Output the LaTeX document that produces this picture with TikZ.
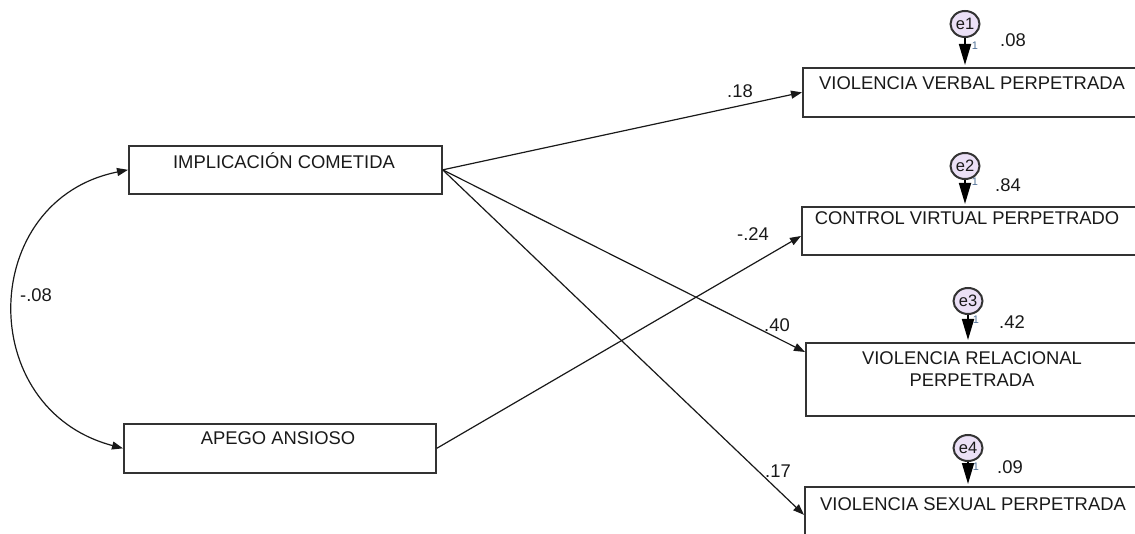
\documentclass[tikz,border=0pt]{standalone}
\usepackage{fontspec}
\setmainfont{Liberation Sans}
\usetikzlibrary{arrows.meta,shapes.geometric,calc}
\definecolor{boxline}{HTML}{333333}
\definecolor{errfill}{HTML}{EBE0F6}
\definecolor{onecol}{HTML}{4F6F95}
\begin{document}
\begin{tikzpicture}[x=1pt,y=-1pt,
  box/.style={draw=boxline, line width=1.7pt, rectangle, inner sep=0pt, anchor=north west},
  lbl/.style={font=\fontsize{18.4}{22}\selectfont, inner sep=0pt, text=black!90, anchor=base},
  err/.style={ellipse, draw=boxline, line width=2pt, fill=errfill, minimum width=29pt, minimum height=26pt, inner sep=0pt, font=\fontsize{16.5}{16.5}\selectfont, text=black!90},
  one/.style={font=\fontsize{11}{11}\selectfont, text=onecol, inner sep=0pt},
  patharrow/.style={draw=black!90, line width=1.2pt, -{Triangle[length=11pt,width=8pt]}},
  covarrow/.style={draw=black!90, line width=1.2pt, {Triangle[length=11pt,width=8pt]}-{Triangle[length=11pt,width=8pt]}},
  errarrow/.style={draw=black, line width=1.8pt, -{Triangle[length=21pt,width=12pt]}, shorten >=2pt},
]
\path[use as bounding box] (0,0) rectangle (1135,534);
\clip (0,0) rectangle (1135,534);

% boxes
\node[box, minimum width=313pt, minimum height=48pt] (impl) at (128,145) {};
\node[box, minimum width=312pt, minimum height=49pt] (apego) at (123,423) {};
\node[box, minimum width=340pt, minimum height=49pt] (verbal) at (802,67) {};
\node[box, minimum width=342pt, minimum height=48pt] (control) at (801,206) {};
\node[box, minimum width=338pt, minimum height=73pt] (relac) at (805,342) {};
\node[box, minimum width=338pt, minimum height=56pt] (sexual) at (804,486) {};

% box texts
\node[lbl] (timpl) at (284,168.5) {IMPLICACIÓN COMETIDA};
\node[lbl] (tapego) at (278,444.6) {APEGO ANSIOSO};
\node[lbl] (tverbal) at (972,89.3) {VIOLENCIA VERBAL PERPETRADA};
\node[lbl] (tcontrol) at (967,224.6) {CONTROL VIRTUAL PERPETRADO};
\node[lbl] (trelac1) at (972,364.6) {VIOLENCIA RELACIONAL};
\node[lbl] (trelac2) at (972,386.6) {PERPETRADA};
\node[lbl] (tsexual) at (973,510.6) {VIOLENCIA SEXUAL PERPETRADA};

% error terms
\node[err] (e1) at (965,24) {e1};
\node[err] (e2) at (965,166) {e2};
\node[err] (e3) at (968,301) {e3};
\node[err] (e4) at (968,448) {e4};

\draw[errarrow] (e1) -- (e1 |- verbal.north);
\draw[errarrow] (e2) -- (e2 |- control.north);
\draw[errarrow] (e3) -- (e3 |- relac.north);
\draw[errarrow] (e4) -- (e4 |- sexual.north);

\node[one] (o1) at (975,46) {1};
\node[one] (o2) at (975,182) {1};
\node[one] (o3) at (976,320) {1};
\node[one] (o4) at (976,467) {1};

% R2 values
\node[lbl] (r1) at (1013,46.6) {.08};
\node[lbl] (r2) at (1008,191.6) {.84};
\node[lbl] (r3) at (1012,328.6) {.42};
\node[lbl] (r4) at (1010,473.6) {.09};

% paths
\coordinate (relin) at ($(relac.north west)+(0,10)$);
\coordinate (ctrlin) at ($(control.north west)+(0,30)$);
\draw[patharrow] (impl.east) -- (verbal.west);
\draw[patharrow] (impl.east) -- (relin);
\draw[patharrow] (impl.east) -- (sexual.west);
\draw[patharrow] (apego.east) -- (ctrlin);

\node[lbl] (p1) at (740,97.6) {.18};
\node[lbl] (p2) at (753,240.6) {-.24};
\node[lbl] (p3) at (777,331.6) {.40};
\node[lbl] (p4) at (778,477.6) {.17};

% covariance
\draw[covarrow] (impl.west) .. controls (-22,200) and (-26,409) .. (apego.west);
\node[lbl] (cv) at (36,301.6) {-.08};
\end{tikzpicture}
\end{document}
